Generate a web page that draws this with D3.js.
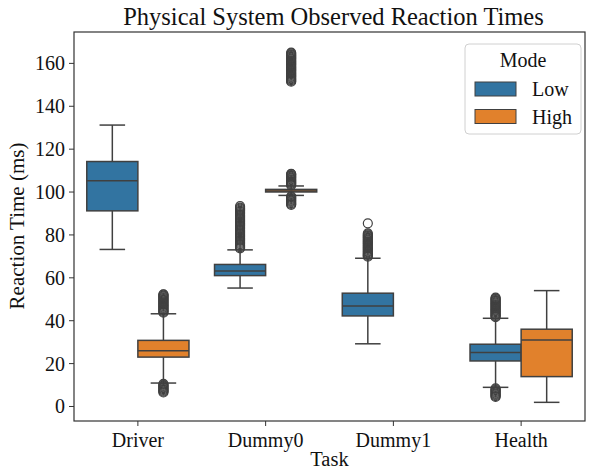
<!DOCTYPE html>
<html>
<head>
<meta charset="utf-8">
<script src="https://cdn.jsdelivr.net/npm/d3@7"></script>
<style>
body { margin: 0; background: #fff; }
text { font-family: "Liberation Serif", "Times New Roman", serif; fill: #111; }
</style>
</head>
<body>
<svg id="chart" width="589" height="470"></svg>
<script>
var tasks = ['Driver', 'Dummy0', 'Dummy1', 'Health'];
var modes = ['Low', 'High'];
var colors = ['#3274a1', '#e1812c'];
var yTicks = [0, 20, 40, 60, 80, 100, 120, 140, 160];

// [whisker low, q1, median, q3, whisker high], null = no box
var lowBox = [[73, 91, 105, 114, 131], [55, 60.8, 63, 66, 72.8], [29, 42, 46.6, 52.6, 68.9], [8.7, 21, 24.9, 28.8, 40.9]];
var highBox = [[10.7, 22.8, 25.8, 30.6, 43], [98.2, 99.8, 100.3, 101, 102.6], null, [1.7, 13.7, 30.8, 35.8, 53.8]];

var lowFliers = [
  [],
  [73.5, 74, 74.5, 75, 75.5, 76, 76.5, 77, 77.5, 78, 78.5, 79, 79.5, 80, 80.5, 81, 81.5, 82, 82.5, 83, 83.5, 84,
   84.5, 85, 85.5, 86, 86.5, 87, 87.5, 88, 88.5, 89, 89.5, 90, 90.5, 91, 91.5, 92, 92.5, 93.2],
  [69.6, 70, 70.4, 70.8, 71.2, 71.6, 72, 72.4, 72.8, 73.2, 73.6, 74, 74.4, 74.8, 75.2, 75.6, 76, 76.4, 76.8, 77.2,
   77.6, 78, 78.4, 78.8, 79.2, 79.6, 80, 80.5, 85.2],
  [4.2, 4.6, 5, 5.4, 5.8, 6.2, 6.6, 7, 7.4, 7.8, 8.2, 41.4, 41.8, 42.2, 42.6, 43, 43.4, 43.8, 44.2, 44.6, 45, 45.4,
   45.8, 46.2, 46.6, 47, 47.4, 47.8, 48.2, 48.6, 49, 49.4, 49.8, 50.2, 50.5]
];
var highFliers = [
  [6.3, 6.7, 7.1, 7.5, 7.9, 8.3, 8.7, 9.1, 9.5, 9.9, 10.3, 43.5, 43.9, 44.3, 44.7, 45.1, 45.5, 45.9, 46.3, 46.7,
   47.1, 47.5, 47.9, 48.3, 48.7, 49.1, 49.5, 49.9, 50.3, 50.7, 51.1, 51.5, 51.9, 52.1],
  [93.8, 94.2, 94.6, 95, 95.4, 95.8, 96.2, 96.6, 97, 97.4, 97.8, 102.9, 103.3, 103.7, 104.1, 104.5, 104.9, 105.3,
   105.7, 106.1, 106.5, 106.9, 107.3, 107.7, 108.1, 108.3,
   151.2, 151.6, 152, 152.4, 152.8, 153.2, 153.6, 154, 154.4, 154.8, 155.2, 155.6, 156, 156.4, 156.8, 157.2, 157.6,
   158, 158.4, 158.8, 159.2, 159.6, 160, 160.4, 160.8, 161.2, 161.6, 162, 162.4, 162.8, 163.2, 163.6, 164, 164.4, 164.8],
  [],
  []
];

var svg = d3.select('#chart');
var lineCol = '#404040';

var x = d3.scaleBand().domain(tasks).range([74, 585]).paddingInner(0.2).paddingOuter(0.1);
var xm = d3.scaleBand().domain(modes).range([0, x.bandwidth()]);
var y = d3.scaleLinear().domain([-7, 174.4]).range([421, 32]);

// axes
var yAxis = svg.append('g').attr('transform', 'translate(74,0)')
  .call(d3.axisLeft(y).tickValues(yTicks).tickSize(5).tickPadding(4));
var xAxis = svg.append('g').attr('transform', 'translate(0,421)')
  .call(d3.axisBottom(x).tickSize(5).tickPadding(4));
[yAxis, xAxis].forEach(function (g) {
  g.select('.domain').remove();
  g.selectAll('line').attr('stroke', '#333');
  g.selectAll('text').attr('font-size', 20).attr('font-family', 'Liberation Serif').attr('fill', '#111');
});
xAxis.selectAll('text').attr('dy', '0.85em');
yAxis.selectAll('text').attr('dy', '0.35em');

var groups = [lowBox, highBox];
var fliers = [lowFliers, highFliers];

modes.forEach(function (m, mi) {
  tasks.forEach(function (t, ti) {
    var b = groups[mi][ti];
    if (!b) return;
    var x0 = x(t) + xm(m);
    var w = xm.bandwidth();
    var cx = x0 + w / 2;
    var g = svg.append('g');
    // whiskers
    g.append('line').attr('x1', cx).attr('x2', cx).attr('y1', y(b[0])).attr('y2', y(b[1])).attr('stroke', lineCol).attr('stroke-width', 1.5);
    g.append('line').attr('x1', cx).attr('x2', cx).attr('y1', y(b[3])).attr('y2', y(b[4])).attr('stroke', lineCol).attr('stroke-width', 1.5);
    g.append('line').attr('x1', cx - w / 4).attr('x2', cx + w / 4).attr('y1', y(b[0])).attr('y2', y(b[0])).attr('stroke', lineCol).attr('stroke-width', 1.5);
    g.append('line').attr('x1', cx - w / 4).attr('x2', cx + w / 4).attr('y1', y(b[4])).attr('y2', y(b[4])).attr('stroke', lineCol).attr('stroke-width', 1.5);
    // box
    g.append('rect').attr('x', x0).attr('y', y(b[3])).attr('width', w).attr('height', y(b[1]) - y(b[3]))
      .attr('fill', colors[mi]).attr('stroke', lineCol).attr('stroke-width', 1.5);
    g.append('line').attr('x1', x0).attr('x2', x0 + w).attr('y1', y(b[2])).attr('y2', y(b[2])).attr('stroke', lineCol).attr('stroke-width', 1.5);
    // fliers
    g.selectAll('circle').data(fliers[mi][ti]).enter().append('circle')
      .attr('cx', cx).attr('cy', function (d) { return y(d); }).attr('r', 4.5)
      .attr('fill', 'none').attr('stroke', lineCol).attr('stroke-width', 1.2);
  });
});

// frame
svg.append('rect').attr('x', 74).attr('y', 32).attr('width', 511).attr('height', 389)
  .attr('fill', 'none').attr('stroke', '#333').attr('stroke-width', 1.2);

// labels
svg.append('text').attr('x', 333.5).attr('y', 25).attr('text-anchor', 'middle').attr('font-size', 24.5)
  .text('Physical System Observed Reaction Times');
svg.append('text').attr('x', 329.5).attr('y', 466).attr('text-anchor', 'middle').attr('font-size', 20.5).text('Task');
svg.append('text').attr('transform', 'translate(24,226) rotate(-90)').attr('text-anchor', 'middle').attr('font-size', 21)
  .text('Reaction Time (ms)');

// legend
var lg = svg.append('g').attr('transform', 'translate(465,44)');
lg.append('rect').attr('width', 116).attr('height', 90).attr('rx', 4).attr('fill', '#fff').attr('fill-opacity', 0.8)
  .attr('stroke', '#d0d0d0');
lg.append('text').attr('x', 58).attr('y', 23).attr('text-anchor', 'middle').attr('font-size', 20).text('Mode');
modes.forEach(function (m, i) {
  lg.append('rect').attr('x', 10).attr('y', 38 + i * 27.5).attr('width', 41).attr('height', 14)
    .attr('fill', colors[i]).attr('stroke', lineCol).attr('stroke-width', 1);
  lg.append('text').attr('x', 67).attr('y', 52 + i * 27.5).attr('font-size', 20).text(m);
});
</script>
</body>
</html>
